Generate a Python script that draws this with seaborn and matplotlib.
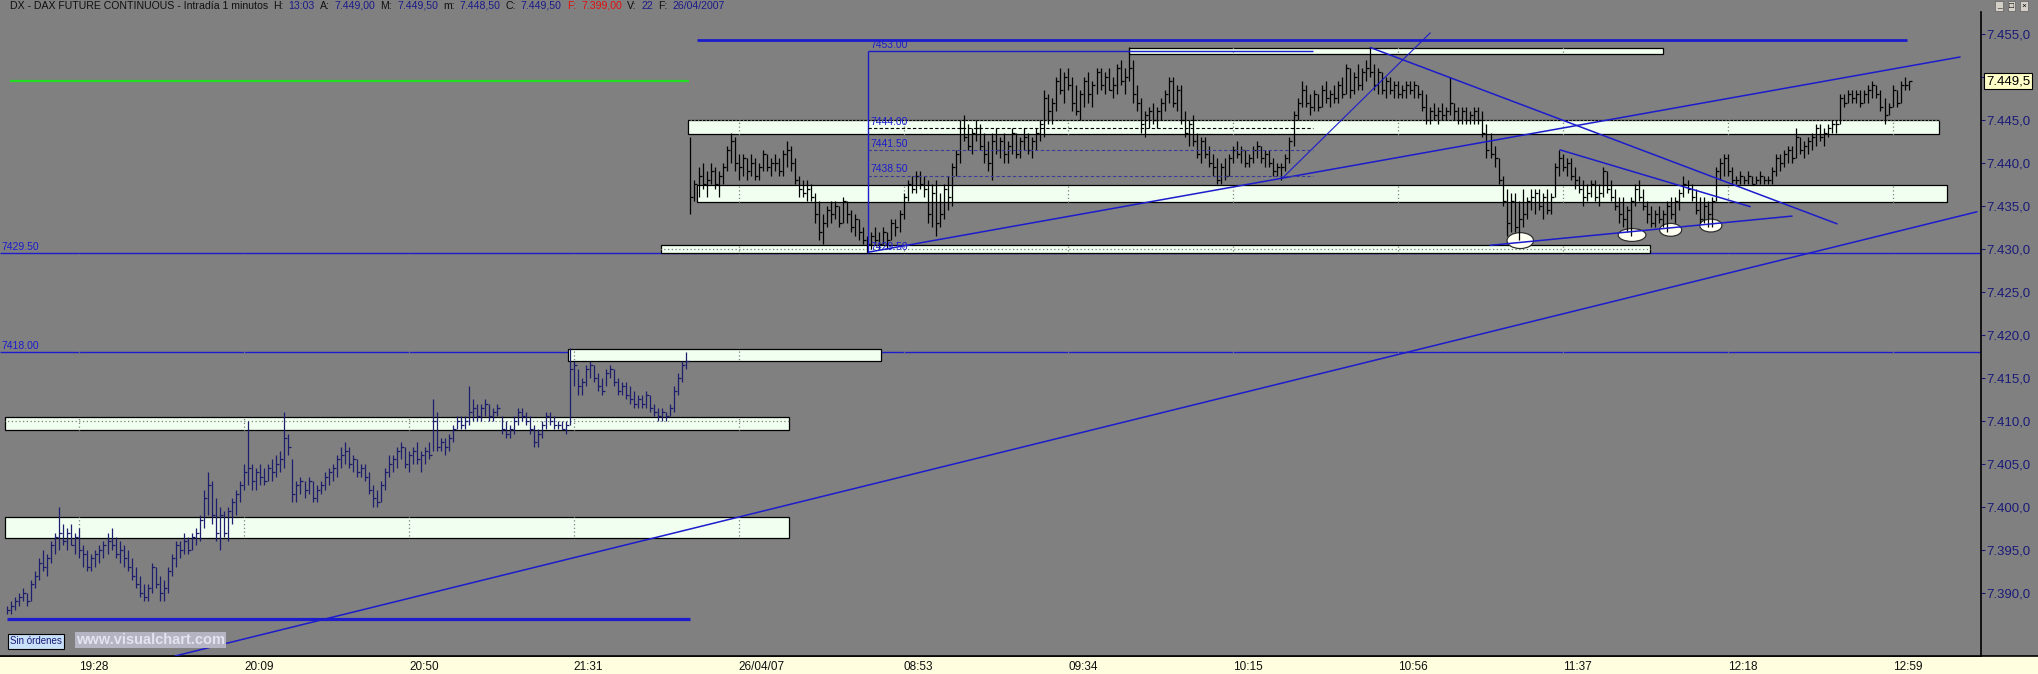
import numpy as np
import pandas as pd
import seaborn as sns
import matplotlib.pyplot as plt
from matplotlib.patches import Rectangle, Ellipse
from matplotlib.lines import Line2D
from matplotlib.transforms import blended_transform_factory

# ---------------- datos (barras de 1 minuto) ----------------
# sesion 25/04 desde las 19:10
day1_high = [7388.5, 7389, 7389.5, 7390, 7390.5, 7390, 7391.5, 7392.5, 7394, 7395,
             7394.5, 7396, 7397, 7400, 7398, 7397.5, 7398, 7397, 7397.5, 7395.5,
             7395, 7394.5, 7395, 7395.5, 7396, 7397, 7397.5, 7396.5, 7396, 7395.5,
             7395, 7394, 7393, 7392, 7391, 7391, 7393.5, 7393, 7392, 7391.5,
             7393, 7394.5, 7396, 7396, 7397, 7396.5, 7397, 7397.5, 7399, 7402,
             7404, 7403, 7401, 7400, 7399.5, 7400, 7401, 7402, 7403, 7405,
             7410, 7405, 7404.5, 7405, 7404.5, 7405, 7405.5, 7406, 7406.5, 7411,
             7408.5, 7405.5, 7403, 7403.5, 7403, 7403.5, 7403, 7402.5, 7403, 7404,
             7404.5, 7405, 7406, 7407, 7407.5, 7407, 7406, 7405.5, 7405, 7405,
             7404, 7402.5, 7402, 7403, 7404.5, 7406, 7406, 7407, 7407.5, 7407,
             7406.5, 7407, 7407.5, 7406.5, 7407, 7407.5, 7412.5, 7411, 7408, 7408,
             7408.5, 7409.5, 7410.5, 7410.5, 7410.5, 7414, 7412.5, 7412, 7412, 7412.5,
             7412, 7411.5, 7412, 7410.5, 7410, 7409.5, 7410.5, 7411.5, 7411.5, 7411,
             7410.5, 7409.5, 7409, 7410, 7411, 7411, 7410.5, 7410, 7410, 7410,
             7418.5, 7417, 7416, 7415, 7416.5, 7417, 7416.5, 7415.5, 7415, 7416,
             7416.5, 7416, 7415, 7414.5, 7414.5, 7414, 7413.5, 7413, 7413, 7413.5,
             7413, 7412, 7411.5, 7411.5, 7411, 7412, 7414, 7415.5, 7417, 7418]
day1_low = [7387.5, 7387.5, 7388, 7388.5, 7389, 7388.5, 7389, 7390.5, 7391.5, 7392.5,
            7392, 7393.5, 7394.5, 7395, 7395.5, 7395, 7395.5, 7394.5, 7394, 7393,
            7392.5, 7392.5, 7393, 7393.5, 7394, 7394.5, 7395, 7394, 7393.5, 7393,
            7392.5, 7391.5, 7390.5, 7389.5, 7389, 7389, 7390, 7390.5, 7389, 7389,
            7390, 7392, 7393, 7394, 7394.5, 7394.5, 7395, 7395.5, 7396, 7397.5,
            7399, 7398, 7396, 7395, 7396.5, 7396, 7398, 7399, 7400.5, 7402,
            7402.5, 7402, 7402, 7402.5, 7402.5, 7403, 7403, 7403.5, 7404, 7404.5,
            7406, 7400.5, 7400.5, 7401.5, 7401, 7401.5, 7400.5, 7400.5, 7401.5, 7402,
            7402.5, 7403, 7403.5, 7404.5, 7405, 7404.5, 7404, 7403.5, 7403.5, 7403,
            7401.5, 7400, 7400, 7400.5, 7402, 7403.5, 7404, 7404.5, 7405.5, 7404.5,
            7404, 7405, 7405, 7404, 7405, 7405.5, 7406.5, 7406.5, 7406.5, 7406,
            7406.5, 7407.5, 7409, 7409, 7409, 7409.5, 7410, 7410, 7410, 7410.5,
            7410, 7410, 7410.5, 7408.5, 7408, 7408, 7408.5, 7409.5, 7410, 7409.5,
            7408.5, 7407, 7407, 7408, 7409, 7409.5, 7409, 7409, 7409, 7408.5,
            7409.5, 7414, 7413, 7413, 7414, 7415, 7414.5, 7413.5, 7413, 7414,
            7415, 7414, 7413, 7413, 7412.5, 7412, 7411.5, 7411.5, 7411.5, 7411.5,
            7411, 7410.5, 7410, 7410, 7410, 7410.5, 7411, 7413, 7414.5, 7416]
day1_close = [7388, 7388.5, 7389, 7389.5, 7390, 7389, 7391, 7392, 7393.5, 7393,
              7394, 7395.5, 7396.5, 7397, 7396, 7397, 7395.5, 7396.5, 7395, 7394.5,
              7393, 7394, 7394.5, 7395, 7395.5, 7396, 7395.5, 7394.5, 7395, 7394,
              7393, 7392, 7391, 7390, 7389.5, 7390.5, 7393, 7391, 7390, 7390.5,
              7392.5, 7394, 7395.5, 7395, 7396, 7395, 7396.5, 7397, 7398.5, 7401,
              7402.5, 7399, 7397, 7399, 7397, 7399.5, 7400.5, 7401.5, 7402.5, 7404,
              7404.5, 7403, 7404, 7403.5, 7403, 7404.5, 7404, 7405, 7405.5, 7408,
              7407, 7401.5, 7402.5, 7403, 7402, 7403, 7401, 7402, 7402.5, 7403.5,
              7404, 7404.5, 7405.5, 7406, 7406.5, 7405, 7405.5, 7404, 7404.5, 7403.5,
              7402, 7401, 7400.5, 7402.5, 7404, 7405, 7405.5, 7406.5, 7407, 7405,
              7406, 7406.5, 7405.5, 7406, 7406.5, 7406, 7410, 7407, 7407.5, 7407,
              7408, 7409, 7410, 7409.5, 7410, 7411, 7411.5, 7410.5, 7411.5, 7412,
              7410.5, 7411, 7411.5, 7409, 7408.5, 7409, 7410, 7411, 7410.5, 7410,
              7409, 7407.5, 7408.5, 7409.5, 7410.5, 7410, 7409.5, 7409.5, 7409, 7409.5,
              7416, 7416.5, 7414, 7414.5, 7416, 7416.5, 7415, 7414, 7413.5, 7415.5,
              7416, 7414.5, 7413.5, 7414, 7413, 7412.5, 7412, 7412.5, 7412, 7413,
              7411.5, 7411, 7410.5, 7411, 7410.5, 7411.5, 7413.5, 7415, 7416.5, 7417]

# sesion 26/04 desde las 08:00
day2_high = [7443, 7438, 7439.5, 7440, 7439, 7440, 7439.5, 7439, 7440, 7442,
             7443.5, 7443, 7441, 7441, 7440.5, 7441, 7440.5, 7440, 7441.5, 7441,
             7440.5, 7441, 7440.5, 7441.5, 7442.5, 7442, 7440.5, 7438.5, 7438, 7438,
             7437.5, 7436.5, 7435.5, 7434, 7435, 7435.5, 7435.5, 7435, 7436, 7435.5,
             7434.5, 7434, 7433.5, 7432.5, 7431.5, 7432, 7432.5, 7432, 7432.5, 7432,
             7433.5, 7433.5, 7434.5, 7436.5, 7438, 7438.5, 7439, 7439, 7438.5, 7438,
             7437.5, 7438, 7436.5, 7437.5, 7438.5, 7440, 7441.5, 7445, 7445.5, 7444.5,
             7444, 7445, 7444.5, 7443.5, 7442.5, 7443.5, 7444, 7443, 7443.5, 7442.5,
             7444, 7443.5, 7443, 7444, 7443.5, 7443, 7444, 7445, 7448.5, 7448,
             7447.5, 7450, 7451, 7450.5, 7451, 7450, 7449, 7448.5, 7450, 7450.5,
             7449.5, 7451, 7451, 7450.5, 7451, 7450, 7451.5, 7452, 7451, 7453.5,
             7452, 7449, 7447.5, 7446, 7446.5, 7447, 7446.5, 7447.5, 7448.5, 7450,
             7450, 7449, 7449, 7446, 7445, 7445.5, 7443.5, 7443, 7443, 7442,
             7441, 7440.5, 7440, 7440.5, 7441, 7442, 7442.5, 7442, 7441.5, 7441,
             7442, 7442.5, 7442, 7441.5, 7441.5, 7440.5, 7440, 7440, 7441, 7443,
             7446, 7447.5, 7449.5, 7449, 7448, 7448.5, 7448, 7449, 7449.5, 7448.5,
             7449, 7449.5, 7450, 7451.5, 7451, 7450.5, 7451.5, 7451, 7452, 7453.5,
             7451.5, 7451, 7450.5, 7450, 7450, 7449.5, 7449.5, 7449, 7449.5, 7449.5,
             7449.5, 7449, 7448.5, 7448, 7446.5, 7447, 7446.5, 7447, 7446.5, 7450,
             7447, 7446.5, 7446.5, 7446.5, 7446, 7446.5, 7446.5, 7446, 7444.5, 7443.5,
             7442, 7440.5, 7438.5, 7437, 7436.5, 7436.5, 7435.5, 7437, 7436, 7437,
             7437, 7437, 7436.5, 7437, 7436.5, 7440, 7441.5, 7441, 7440.5, 7440.5,
             7439.5, 7438.5, 7438, 7437.5, 7438, 7438, 7437.5, 7439.5, 7439, 7438,
             7437, 7436, 7436, 7435, 7436, 7437.5, 7438, 7437, 7435.5, 7435,
             7434.5, 7435, 7434.5, 7435.5, 7436, 7436, 7437, 7438.5, 7438, 7437.5,
             7437, 7436, 7436, 7435.5, 7436, 7439.5, 7440.5, 7441, 7441, 7439.5,
             7438.5, 7439, 7438.5, 7439, 7438.5, 7438.5, 7439, 7438.5, 7438.5, 7439.5,
             7441, 7441, 7441.5, 7442, 7442, 7444, 7443, 7442.5, 7443, 7443.5,
             7444.5, 7444.5, 7444, 7444.5, 7445, 7445, 7448, 7448, 7448.5, 7448.5,
             7448.5, 7448.5, 7448.5, 7449, 7449.5, 7449, 7448.5, 7447.5, 7447, 7449,
             7448.5, 7449.5, 7450, 7449.5]
day2_low = [7434, 7435.5, 7436, 7437, 7436, 7437.5, 7437, 7436, 7437.5, 7439,
            7440, 7439, 7438, 7438.5, 7438, 7438.5, 7438, 7438, 7439, 7439,
            7438.5, 7439, 7438.5, 7438.5, 7439.5, 7439, 7437.5, 7436, 7436, 7435.5,
            7435.5, 7433, 7431, 7430.5, 7432.5, 7433, 7433.5, 7432.5, 7433, 7433,
            7432, 7431.5, 7431, 7430.5, 7429.5, 7430, 7430.5, 7430, 7430.5, 7430,
            7431, 7431.5, 7432, 7433.5, 7435.5, 7436.5, 7436.5, 7437, 7436, 7433,
            7432.5, 7431.5, 7432.5, 7433.5, 7434.5, 7435, 7438.5, 7440, 7442.5, 7441.5,
            7441, 7442.5, 7441.5, 7440, 7439, 7438, 7441, 7440.5, 7440, 7440,
            7441, 7440.5, 7440.5, 7441.5, 7441, 7440.5, 7441.5, 7442.5, 7443, 7444.5,
            7444.5, 7446, 7448, 7447, 7448.5, 7446, 7445.5, 7445, 7446.5, 7447,
            7446.5, 7448, 7448.5, 7448, 7448.5, 7447.5, 7448, 7449, 7448, 7449.5,
            7447, 7446, 7443.5, 7443, 7444, 7444.5, 7444, 7445, 7446, 7447,
            7446.5, 7446, 7444.5, 7443, 7442, 7442, 7440.5, 7440, 7440.5, 7439.5,
            7438.5, 7437.5, 7437.5, 7438, 7438.5, 7440, 7440.5, 7440, 7439.5, 7439.5,
            7440, 7440.5, 7440, 7439.5, 7439.5, 7438.5, 7438.5, 7438, 7439, 7440,
            7442, 7445, 7446.5, 7446.5, 7445.5, 7446, 7446, 7446.5, 7447, 7446.5,
            7447, 7447, 7447.5, 7448, 7447.5, 7448, 7448.5, 7448.5, 7449.5, 7450,
            7448.5, 7448, 7448, 7447.5, 7448, 7447.5, 7447.5, 7447.5, 7447.5, 7448,
            7447.5, 7447.5, 7446, 7444.5, 7444.5, 7445, 7444.5, 7445, 7445, 7445.5,
            7445, 7444.5, 7444.5, 7444.5, 7444.5, 7444.5, 7444.5, 7443, 7440.5, 7440.5,
            7439.5, 7437.5, 7435, 7431.5, 7432, 7432, 7431, 7432.5, 7433.5, 7434.5,
            7434, 7434.5, 7433.5, 7434, 7434, 7436, 7438.5, 7439, 7438.5, 7438,
            7437, 7436.5, 7435, 7435.5, 7436, 7435.5, 7435, 7436, 7436.5, 7435.5,
            7434.5, 7433, 7432.5, 7432, 7431.5, 7435, 7435.5, 7434.5, 7433, 7432.5,
            7432.5, 7433, 7432.5, 7432, 7433.5, 7433, 7434.5, 7436, 7436.5, 7435.5,
            7434, 7433, 7433, 7432.5, 7432.5, 7435.5, 7438, 7438.5, 7438.5, 7437.5,
            7437.5, 7437.5, 7437.5, 7437.5, 7437.5, 7437.5, 7437.5, 7437.5, 7437.5, 7437.5,
            7438.5, 7439, 7439.5, 7440, 7440, 7440.5, 7441, 7440.5, 7441, 7441.5,
            7442, 7442.5, 7442, 7443, 7443.5, 7443.5, 7444.5, 7446.5, 7447, 7447,
            7447, 7446.5, 7447, 7447, 7447.5, 7447.5, 7446, 7444.5, 7445.5, 7446.5,
            7446.5, 7447, 7448.5, 7448.5]
day2_close = [7436, 7437.5, 7438.5, 7437.5, 7438, 7439, 7437.5, 7438.5, 7439.5, 7441.5,
              7442.5, 7440, 7439.5, 7440.5, 7439, 7440, 7438.5, 7439.5, 7441, 7439.5,
              7440, 7440, 7439, 7441, 7441.5, 7440, 7438, 7437, 7436.5, 7437,
              7436, 7434, 7432, 7433, 7434.5, 7434, 7435, 7433, 7435.5, 7434,
              7432.5, 7433.5, 7432, 7431, 7430.5, 7431.5, 7431, 7430.5, 7432, 7431,
              7433, 7432.5, 7434, 7436, 7437.5, 7437, 7438.5, 7437.5, 7437, 7434,
              7436.5, 7433, 7434, 7437, 7436, 7439.5, 7441, 7444, 7443, 7442,
              7443.5, 7444, 7442, 7441, 7440, 7442.5, 7441.5, 7442.5, 7441, 7442,
              7443.5, 7441, 7442.5, 7443, 7441.5, 7442.5, 7443.5, 7444.5, 7447.5, 7446,
              7447, 7449.5, 7448.5, 7450, 7449, 7447, 7446, 7448, 7449.5, 7448,
              7449, 7450.5, 7449, 7450, 7448.5, 7449, 7451, 7449.5, 7450, 7451,
              7448, 7447, 7444.5, 7445.5, 7446, 7445, 7446, 7447, 7448, 7449.5,
              7447, 7448.5, 7445, 7443.5, 7444.5, 7442.5, 7441, 7442.5, 7441, 7440,
              7439.5, 7438, 7439.5, 7438.5, 7440.5, 7441.5, 7441, 7441.5, 7440, 7440.5,
              7441.5, 7442, 7440.5, 7441, 7440, 7439, 7439.5, 7439.5, 7440.5, 7442.5,
              7445.5, 7447, 7448.5, 7447, 7446.5, 7448, 7446.5, 7448.5, 7447.5, 7448,
              7447.5, 7449, 7448, 7451, 7448.5, 7450, 7449, 7450.5, 7451, 7450.5,
              7449, 7450.5, 7448.5, 7449.5, 7448.5, 7449, 7448, 7448.5, 7449, 7448.5,
              7449, 7448, 7446.5, 7445, 7446, 7445.5, 7446, 7445.5, 7446, 7447,
              7446, 7445, 7446, 7445, 7445.5, 7446, 7445, 7443.5, 7441.5, 7441,
              7440.5, 7438, 7435.5, 7433, 7435.5, 7432.5, 7433.5, 7434, 7435.5, 7436,
              7436.5, 7435, 7436, 7434.5, 7436, 7439.5, 7440.5, 7439.5, 7440, 7438.5,
              7438, 7437, 7436, 7436.5, 7437.5, 7436, 7436.5, 7439, 7437, 7436,
              7435, 7434, 7433.5, 7434.5, 7435.5, 7437, 7436, 7435, 7434, 7433,
              7434, 7433.5, 7434, 7435, 7434, 7435.5, 7436.5, 7437.5, 7437, 7436,
              7434.5, 7433.5, 7435, 7434, 7435.5, 7439, 7440, 7440.5, 7439, 7438,
              7438, 7438.5, 7438, 7438.5, 7437.5, 7438, 7438.5, 7438, 7438, 7439,
              7440.5, 7440, 7441, 7441.5, 7440.5, 7443, 7441.5, 7442, 7442.5, 7443,
              7444, 7443, 7443.5, 7444, 7444.5, 7444.5, 7447.5, 7447, 7448, 7447.5,
              7448, 7447, 7448, 7448.5, 7449, 7448, 7446.5, 7445.5, 7446.5, 7448.5,
              7447, 7449, 7449, 7449.5]

day1_start = "19:10"
day2_start = "08:00"
tick_times = ["19:28", "20:09", "20:50", "21:31", "08:12", "08:53", "09:34",
              "10:15", "10:56", "11:37", "12:18", "12:59"]
tick_text = ["19:28", "20:09", "20:50", "21:31", "26/04/07", "08:53", "09:34",
             "10:15", "10:56", "11:37", "12:18", "12:59"]
price_ticks = [7390, 7395, 7400, 7405, 7410, 7415, 7420, 7425, 7430, 7435,
               7440, 7445, 7450, 7455]
last_price = 7449.5

# dibujos del usuario (x en numero de barra, y en precio)
zone_x0 = [279.1, 169.4, 171.6, 162.7, 139.6, -0.5, -0.5]
zone_x1 = [411.9, 480.6, 482.6, 408.7, 217.4, 194.5, 194.5]
zone_lo = [7452.6, 7443.4, 7435.4, 7429.5, 7416.9, 7408.9, 7396.4]
zone_hi = [7453.4, 7445.0, 7437.4, 7430.4, 7418.4, 7410.4, 7398.85]

level_prices = [7429.5, 7418.0]
level_labels = ["7429.50", "7418.00"]

seg_price = [7449.5, 7387.0, 7454.3]
seg_x0 = [0.8, 0.0, 171.6]
seg_x1 = [169.7, 170.0, 472.6]

trend_x0 = [41.8, 214.2, 317.2, 339.1, 386.3, 368.9]
trend_p0 = [7382.65, 7429.6, 7438.2, 7453.4, 7441.5, 7430.4]
trend_x1 = [490.0, 485.8, 354.0, 455.2, 433.6, 444.0]
trend_p1 = [7434.3, 7452.3, 7455.1, 7432.9, 7434.9, 7433.8]

ell_x = [376.4, 404.2, 413.8, 423.8]
ell_p = [7430.95, 7431.6, 7432.2, 7432.7]
ell_w = [6.6, 6.9, 5.5, 5.5]
ell_h = [1.85, 1.5, 1.5, 1.5]

fib_x0, fib_x1 = 214.2, 324.9
fib_low, fib_high = 7429.5, 7453.0
fib_levels = [7444.0, 7441.5, 7438.5]

header_parts = [("DX - DAX FUTURE CONTINUOUS - Intradía 1 minutos", "k"),
                ("H:", "k"), ("13:03", "v"), ("A:", "k"), ("7.449,00", "v"),
                ("M:", "k"), ("7.449,50", "v"), ("m:", "k"), ("7.448,50", "v"),
                ("C:", "k"), ("7.449,50", "v"), ("F:", "r"), ("7.399,00", "r"),
                ("V:", "k"), ("22", "v"), ("F:", "k"), ("26/04/2007", "v")]

# ---------------- estilo ----------------
BG = "#808080"
BLUE = "#1c1ccc"
NAVY = "#1a1a78"
ZONE = "#f0fff0"

sns.set_theme(style="dark", rc={"axes.facecolor": BG, "figure.facecolor": BG})
plt.rcParams["font.family"] = ["Liberation Sans", "DejaVu Sans"]


def fmt_es(v, dec):
    s = f"{v:,.{dec}f}"
    return s.replace(",", "X").replace(".", ",").replace("X", ".")


def bar_of(hhmm):
    h, m = map(int, hhmm.split(":"))
    t = h * 60 + m
    h1, m1 = map(int, day1_start.split(":"))
    h2, m2 = map(int, day2_start.split(":"))
    if t >= h1 * 60 + m1:
        return t - (h1 * 60 + m1)
    return len(day1_high) + t - (h2 * 60 + m2)


bars = pd.concat([
    pd.DataFrame({"bar": np.arange(len(day1_high)), "high": day1_high,
                  "low": day1_low, "close": day1_close, "ses": 1}),
    pd.DataFrame({"bar": len(day1_high) + np.arange(len(day2_high)), "high": day2_high,
                  "low": day2_low, "close": day2_close, "ses": 2}),
], ignore_index=True)

W, H = 2038, 674
fig = plt.figure(figsize=(W / 100, H / 100), dpi=100, facecolor=BG)

# franja inferior amarilla (detras de los ejes)
fig.patches.append(Rectangle((0, 0), 1, 18 / H, transform=fig.transFigure,
                             facecolor="#ffffe0", edgecolor="none", zorder=-5))
fig.lines.append(Line2D([0, 1], [18 / H, 18 / H], transform=fig.transFigure,
                        color="black", lw=1.2, zorder=-4))

ax = fig.add_axes([0, 18 / H, 1981 / W, 644 / H])
ax.set_facecolor(BG)
ax.set_xlim(-1.74, 491.0)
ax.set_ylim(7382.65, 7457.53)

# niveles horizontales
for p, lab in zip(level_prices, level_labels):
    ax.hlines(p, -1.74, 491.0, color=BLUE, lw=1.0, zorder=1)
    ax.text(-1.3, p + 0.15, lab, color=BLUE, fontsize=7.5, ha="left", va="bottom", zorder=6)

# zonas
for x0, x1, lo, hi in zip(zone_x0, zone_x1, zone_lo, zone_hi):
    ax.add_patch(Rectangle((x0, lo), x1 - x0, hi - lo, facecolor=ZONE,
                           edgecolor="black", lw=0.9, zorder=2))

# rejilla punteada (solo se ve sobre las zonas)
for t in tick_times:
    ax.axvline(bar_of(t), color=BG, ls=(0, (1, 2)), lw=0.9, zorder=2.5)
for p in price_ticks:
    ax.axhline(p, color=BG, ls=(0, (1, 2)), lw=0.9, zorder=2.5)

# elipses
for cx, cy, w, h in zip(ell_x, ell_p, ell_w, ell_h):
    ax.add_patch(Ellipse((cx, cy), w, h, facecolor="#fffff2", edgecolor="#303030",
                         lw=0.9, zorder=3))

# barras
for ses, col in [(1, "#1e1e6e"), (2, "black")]:
    d = bars[bars["ses"] == ses]
    ax.vlines(d["bar"], d["low"], d["high"], color=col, lw=0.9, zorder=4)
    ax.plot(d["bar"], d["close"], ls="none", marker=1, ms=2.2, mew=0.9, color=col, zorder=4)

# segmentos horizontales
seg_colors = ["#22dd22", BLUE, BLUE]
seg_lw = [1.6, 2.3, 2.0]
for p, x0, x1, c, lw in zip(seg_price, seg_x0, seg_x1, seg_colors, seg_lw):
    ax.hlines(p, x0, x1, color=c, lw=lw, zorder=5)

# lineas de tendencia
trend_lw = [1.1, 1.1, 0.8, 1.1, 1.1, 1.1]
for x0, p0, x1, p1, lw in zip(trend_x0, trend_p0, trend_x1, trend_p1, trend_lw):
    sns.lineplot(x=[x0, x1], y=[p0, p1], ax=ax, color=BLUE, lw=lw, zorder=5)

# retroceso de fibonacci
ax.vlines(fib_x0, fib_low, fib_high, color=BLUE, lw=1.0, zorder=5)
ax.hlines(fib_high, fib_x0, fib_x1, color=BLUE, lw=1.0, zorder=5)
ax.hlines(fib_levels[0], fib_x0, fib_x1, color="black", lw=0.8, ls=(0, (3, 2)), zorder=5)
ax.hlines(fib_levels[1:], fib_x0, fib_x1, color="#3a3a9a", lw=0.8, ls=(0, (3, 2)), zorder=5)
for p in [fib_high] + fib_levels + [fib_low]:
    ax.text(fib_x0 + 0.5, p + 0.15, f"{p:.2f}", color=BLUE, fontsize=7.5,
            ha="left", va="bottom", zorder=6)

# ejes
ax.yaxis.tick_right()
ax.set_yticks(price_ticks)
ax.set_yticklabels([fmt_es(v, 1) for v in price_ticks], color=NAVY, fontsize=9.5)
ax.tick_params(axis="y", direction="out", length=3, width=0.8, color=NAVY, pad=1)
ax.set_xticks([bar_of(t) for t in tick_times])
ax.set_xticklabels(tick_text, ha="left", fontsize=8.5, color="#101010")
ax.tick_params(axis="x", direction="out", length=2.5, width=0.8, color="black", pad=1)
ax.set_xticks([len(day1_high) - 0.5], minor=True)
ax.tick_params(axis="x", which="minor", direction="out", length=9, width=0.8, color="black")
ax.grid(False)
ax.set_xlabel("")
ax.set_ylabel("")
for s in ["top", "left"]:
    ax.spines[s].set_visible(False)
for s in ["right", "bottom"]:
    ax.spines[s].set_color("black")
    ax.spines[s].set_linewidth(1.2)

# precio actual
tr = blended_transform_factory(ax.transAxes, ax.transData)
ax.text(1.0025, last_price, fmt_es(last_price, 1), transform=tr, fontsize=9.5,
        color="black", ha="left", va="center", clip_on=False, zorder=7,
        bbox=dict(boxstyle="square,pad=0.12", fc="#ffffc8", ec="black", lw=0.8))

# cabecera
renderer = fig.canvas.get_renderer()
cmap = {"k": "#101010", "v": "#1a1a8a", "r": "#e01010"}
xpix = 10
for s, c in header_parts:
    t = fig.text(xpix / W, 1 - 6 / H, s, color=cmap[c], fontsize=7.6, ha="left", va="center")
    xpix += t.get_window_extent(renderer).width + 5

# botones de ventana
for i, g in enumerate(["_", "□", "×"]):
    fig.text((1999 + i * 12.5) / W, 1 - 6 / H, g, fontsize=6, ha="center", va="center",
             color="black", bbox=dict(boxstyle="square,pad=0.15", fc="#d4d0c8", ec="#606060", lw=0.5))

# etiquetas inferiores
fig.text(10 / W, 1 - 641.5 / H, "Sin órdenes", fontsize=7, color=NAVY, ha="left", va="center",
         bbox=dict(boxstyle="square,pad=0.25", fc="#c8e0f8", ec="black", lw=0.8))
fig.text(76 / W, 1 - 640 / H, "www.visualchart.com", fontsize=10.5, fontweight="bold",
         color="#e4e4f0", ha="left", va="center",
         bbox=dict(boxstyle="square,pad=0.1", fc="#b4b4c2", ec="none"))

fig.savefig("out.png", dpi=100, facecolor=BG)
